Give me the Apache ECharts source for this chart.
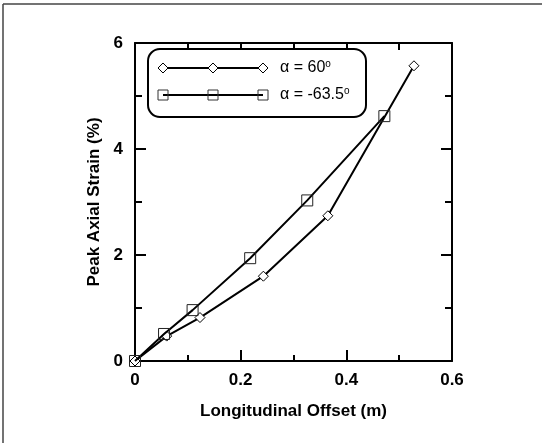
<!DOCTYPE html>
<html>
<head>
<meta charset="utf-8">
<script src="https://cdn.jsdelivr.net/npm/echarts@6/dist/echarts.min.js"></script>
<style>html,body{margin:0;padding:0;background:#fff;}#chart{width:542px;height:443px;}</style>
</head>
<body>
<div id="chart"></div>
<script>
// Data
const offset60 = [0, 0.060, 0.123, 0.243, 0.365, 0.528];
const strain60 = [0, 0.47, 0.82, 1.60, 2.74, 5.57];
const offsetM635 = [0, 0.055, 0.109, 0.218, 0.326, 0.472];
const strainM635 = [0, 0.51, 0.96, 1.94, 3.03, 4.62];
const seriesNames = ['α = 60', 'α = -63.5'];
const xTitle = 'Longitudinal Offset (m)';
const yTitle = 'Peak Axial Strain (%)';

const FONT = 'Liberation Sans, Arial, sans-serif';
const chart = echarts.init(document.getElementById('chart'), null, {renderer: 'canvas'});

function zip(a, b) { return a.map((v, i) => [v, b[i]]); }

const baseAxis = {
  type: 'value',
  axisLine: {show: true, onZero: false, lineStyle: {color: '#000', width: 2}},
  splitLine: {show: false},
  minorSplitLine: {show: false}
};

// Legend drawn as graphic (three markers per sample line, as in the reference)
const L = {x: 148, y: 49, w: 218, h: 68, rowY: [68, 95], lx0: 163, lx1: 263, tx: 280};
const markerXs = [L.lx0, (L.lx0 + L.lx1) / 2, L.lx1];
const legendEls = [
  {type: 'rect', shape: {x: L.x, y: L.y, width: L.w, height: L.h, r: 12},
   style: {fill: '#fff', stroke: '#000', lineWidth: 2}, z: 100}
];
L.rowY.forEach((ry, i) => {
  legendEls.push({type: 'line', shape: {x1: L.lx0, y1: ry, x2: L.lx1, y2: ry},
    style: {stroke: '#000', lineWidth: 2}, z: 101});
  markerXs.forEach(mx => {
    if (i === 0) {
      legendEls.push({type: 'polygon', shape: {points: [[mx - 5, ry], [mx, ry - 5], [mx + 5, ry], [mx, ry + 5]]},
        style: {fill: '#fff', stroke: '#000', lineWidth: 1}, z: 102});
    } else {
      legendEls.push({type: 'rect', shape: {x: mx - 5, y: ry - 5, width: 10, height: 10},
        style: {fill: 'none', stroke: '#333', lineWidth: 1}, z: 102});
    }
  });
  legendEls.push({type: 'text', x: L.tx, y: ry, z: 102,
    style: {text: '{a|' + seriesNames[i] + '}{s|o}', verticalAlign: 'middle', fill: '#000',
      rich: {a: {fontFamily: FONT, fontSize: 16, fill: '#000'},
             s: {fontFamily: FONT, fontSize: 10, fill: '#000', padding: [0, 0, 8, 0]}}}});
});

const option = {
  backgroundColor: '#fff',
  animation: false,
  grid: {left: 135, right: 90, top: 43, bottom: 82, containLabel: false},
  xAxis: [
    Object.assign({}, baseAxis, {
      position: 'bottom', min: 0, max: 0.6, interval: 0.2,
      name: xTitle, nameLocation: 'middle', nameGap: 42,
      nameTextStyle: {fontFamily: FONT, fontWeight: 'bold', fontSize: 17, color: '#000'},
      axisTick: {show: true, inside: true, length: 11, lineStyle: {color: '#000', width: 2}},
      minorTick: {show: true, splitNumber: 2, length: 6, lineStyle: {color: '#000', width: 2}},
      axisLabel: {fontFamily: FONT, fontWeight: 'bold', fontSize: 17, color: '#000', margin: 11}
    }),
    Object.assign({}, baseAxis, {
      position: 'top', min: 0, max: 0.6, interval: 0.2,
      axisTick: {show: true, inside: true, length: 7, lineStyle: {color: '#000', width: 2}},
      minorTick: {show: true, splitNumber: 2, length: 7, lineStyle: {color: '#000', width: 2}},
      axisLabel: {show: false}
    })
  ],
  yAxis: [
    Object.assign({}, baseAxis, {
      position: 'left', min: 0, max: 6, interval: 2,
      name: yTitle, nameLocation: 'middle', nameGap: 30,
      nameTextStyle: {fontFamily: FONT, fontWeight: 'bold', fontSize: 17, color: '#000'},
      axisTick: {show: true, inside: true, length: 11, lineStyle: {color: '#000', width: 2}},
      minorTick: {show: true, splitNumber: 2, length: 7, lineStyle: {color: '#000', width: 2}},
      axisLabel: {fontFamily: FONT, fontWeight: 'bold', fontSize: 17, color: '#000', margin: 12}
    }),
    Object.assign({}, baseAxis, {
      position: 'right', min: 0, max: 6, interval: 2,
      axisTick: {show: true, inside: true, length: 11, lineStyle: {color: '#000', width: 2}},
      minorTick: {show: true, splitNumber: 2, length: 7, lineStyle: {color: '#000', width: 2}},
      axisLabel: {show: false}
    })
  ],
  series: [
    {
      name: seriesNames[0], type: 'line', xAxisIndex: 0, yAxisIndex: 0,
      data: zip(offset60, strain60),
      symbol: 'diamond', symbolSize: 10,
      lineStyle: {color: '#000', width: 2},
      itemStyle: {color: '#fff', borderColor: '#000', borderWidth: 1},
      z: 3
    },
    {
      name: seriesNames[1], type: 'line', xAxisIndex: 0, yAxisIndex: 0,
      data: zip(offsetM635, strainM635),
      symbol: 'rect', symbolSize: 11,
      lineStyle: {color: '#000', width: 2},
      itemStyle: {color: 'rgba(255,255,255,0)', borderColor: '#222', borderWidth: 1},
      z: 4
    }
  ],
  graphic: [
    {type: 'line', shape: {x1: 3, y1: 4, x2: 542, y2: 4}, style: {stroke: '#444', lineWidth: 1.5}, z: 50},
    {type: 'line', shape: {x1: 3, y1: 4, x2: 3, y2: 443}, style: {stroke: '#444', lineWidth: 1.5}, z: 50}
  ].concat(legendEls)
};
chart.setOption(option);
</script>
</body>
</html>
